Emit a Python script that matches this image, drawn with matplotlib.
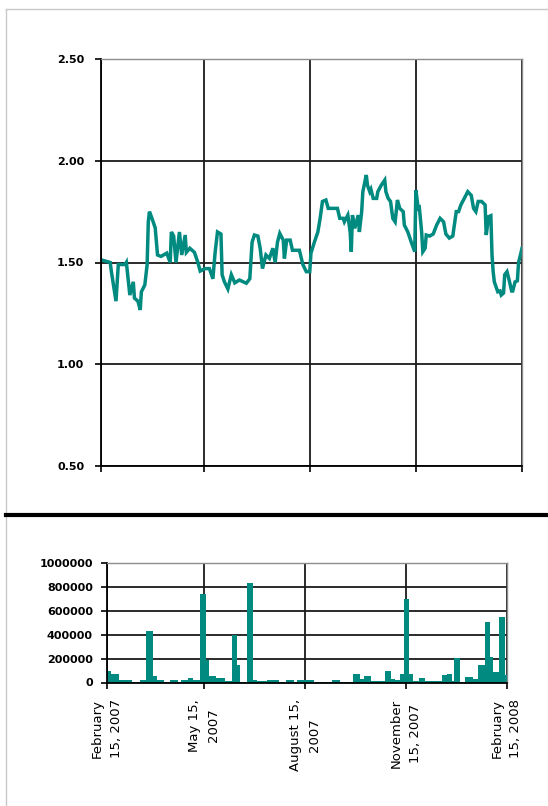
import matplotlib
matplotlib.use("Agg")
import matplotlib.pyplot as plt
from matplotlib.lines import Line2D
import numpy as np
from datetime import date

teal = "#008a80"
grid_col = "#1a1a1a"

# days counted from February 15, 2007
price_days = [2, 8, 9, 13, 15, 21, 22, 25, 28, 29, 32, 34, 35, 38, 40, 41, 42, 44, 47, 49,
              52, 57, 60, 61, 63, 65, 68, 70, 73, 74, 77, 81, 84, 86, 90, 93, 94, 97, 99, 101,
              104, 105, 107, 110, 113, 116, 120, 126, 129, 131, 133, 136, 138, 140, 143, 146, 149, 151, 153, 155,
              158, 159, 161, 164, 166, 172, 175, 178, 181, 182, 185, 188, 190, 192, 195, 197, 205, 207, 210, 211,
              214, 216, 217, 218, 220, 223, 224, 226, 227, 230, 231, 233, 234, 236, 239, 240, 243, 246, 247, 249,
              251, 253, 255, 257, 259, 262, 263, 266, 269, 272, 273, 275, 276, 278, 279, 281, 282, 285, 288, 291,
              294, 297, 299, 302, 305, 308, 310, 312, 315, 318, 321, 323, 325, 327, 330, 333, 334, 336, 338, 339,
              340, 341, 343, 344, 346, 347, 349, 350, 352, 354, 356, 357, 359, 361, 362, 364, 365]
price_values = [1.51, 1.50, 1.455, 1.31, 1.49, 1.49, 1.50, 1.34, 1.405, 1.325, 1.31, 1.267, 1.356, 1.39, 1.49, 1.70, 1.75, 1.72, 1.67, 1.537,
                1.53, 1.546, 1.50, 1.65, 1.63, 1.50, 1.65, 1.537, 1.635, 1.55, 1.57, 1.55, 1.50, 1.458, 1.47, 1.47, 1.47, 1.42, 1.553, 1.65,
                1.64, 1.44, 1.405, 1.37, 1.44, 1.40, 1.414, 1.398, 1.42, 1.60, 1.635, 1.63, 1.57, 1.47, 1.537, 1.52, 1.57, 1.50, 1.60, 1.643,
                1.61, 1.52, 1.61, 1.61, 1.56, 1.56, 1.49, 1.455, 1.455, 1.545, 1.60, 1.65, 1.717, 1.80, 1.807, 1.766, 1.766, 1.717, 1.717, 1.70,
                1.733, 1.65, 1.553, 1.733, 1.668, 1.733, 1.65, 1.75, 1.848, 1.93, 1.88, 1.848, 1.86, 1.815, 1.815, 1.848, 1.88, 1.905, 1.848, 1.815,
                1.80, 1.717, 1.70, 1.807, 1.766, 1.75, 1.684, 1.65, 1.60, 1.553, 1.856, 1.766, 1.77, 1.65, 1.553, 1.57, 1.635, 1.63, 1.64, 1.684,
                1.717, 1.70, 1.64, 1.62, 1.63, 1.75, 1.75, 1.783, 1.815, 1.848, 1.83, 1.766, 1.75, 1.80, 1.80, 1.783, 1.635, 1.725, 1.73, 1.537,
                1.455, 1.405, 1.373, 1.356, 1.36, 1.34, 1.35, 1.44, 1.455, 1.41, 1.36, 1.36, 1.405, 1.41, 1.50, 1.545, 1.57]

vol_days = [0, 4, 11, 23, 30, 36, 42, 46, 52, 58, 65, 68, 74, 79, 85, 91, 93, 100, 108, 114,
            119, 122, 128, 134, 137, 146, 157, 164, 171, 174, 189, 206, 213, 225, 231, 235, 241, 254, 260, 263,
            268, 271, 276, 280, 285, 291, 306, 311, 315, 317, 323, 327, 334, 339, 345, 350, 353, 358, 364]
vol_values = [95000, 75000, 20000, 3000, 20000, 430000, 55000, 20000, 5000, 20000, 5000, 20000, 40000, 20000, 735000, 190000, 55000, 40000, 15000, 395000,
              145000, 5000, 827000, 20000, 15000, 20000, 5000, 20000, 5000, 20000, 3000, 20000, 3000, 70000, 33000, 55000, 15000, 95000, 33000, 25000,
              75000, 695000, 70000, 15000, 40000, 15000, 60000, 75000, 15000, 205000, 5000, 42000, 33000, 150000, 507000, 215000, 90000, 543000, 60000]
vol_end = 365

tick_dates = [date(2007, 2, 15), date(2007, 5, 15), date(2007, 8, 15), date(2007, 11, 15), date(2008, 2, 15)]
tick_labels = ["February\n15, 2007", "May 15,\n2007", "August 15,\n2007", "November\n15, 2007", "February\n15, 2008"]
tick_pos = [(d - tick_dates[0]).days for d in tick_dates]

W, H = 548, 806
fig = plt.figure(figsize=(W / 100, H / 100), dpi=100)
fig.patch.set_facecolor("white")


def style_axes(ax):
    for s in ["left", "bottom"]:
        ax.spines[s].set_color("black")
        ax.spines[s].set_linewidth(1.3)
    for s in ["top", "right"]:
        ax.spines[s].set_color("#8c8c8c")
        ax.spines[s].set_linewidth(1.0)
    ax.set_xticks(tick_pos)
    ax.xaxis.grid(True, color=grid_col, linewidth=1.3)
    ax.yaxis.grid(True, color=grid_col, linewidth=1.3)
    ax.set_axisbelow(True)
    ax.tick_params(length=4, width=1.2, color="black")


# price chart
ax1 = fig.add_axes([101 / W, 1 - 466 / H, 421 / W, 407 / H])
ax1.plot(price_days, price_values, color=teal, linewidth=2.5, solid_joinstyle="miter")
ax1.set_xlim(0, 365)
ax1.set_ylim(0.5, 2.5)
ax1.set_yticks(np.arange(0.5, 2.51, 0.5))
ax1.set_yticklabels(["%.2f" % v for v in np.arange(0.5, 2.51, 0.5)], fontsize=8, fontweight="bold")
style_axes(ax1)
ax1.set_xticklabels([])
ax1.tick_params(axis="y", pad=8)

# volume chart
ax2 = fig.add_axes([106.7 / W, 1 - 682.5 / H, 399.8 / W, 119.8 / H])
widths = np.diff(vol_days + [vol_end])
ax2.bar(vol_days, vol_values, width=widths, align="edge", color=teal, linewidth=0)
ax2.set_xlim(0, 365)
ax2.set_ylim(0, 1000000)
ax2.set_yticks(np.arange(0, 1000001, 200000))
ax2.set_yticklabels([str(v) for v in range(0, 1000001, 200000)], fontsize=8, fontweight="bold")
style_axes(ax2)
ax2.set_xticklabels(tick_labels, rotation=90, fontsize=9.5, linespacing=1.6)
ax2.tick_params(axis="x", pad=8)
ax2.tick_params(axis="y", pad=6)

# frame and separator
fig.add_artist(Line2D([6 / W, 6 / W], [0, 1 - 9 / H], color="#c8c8c8", linewidth=1.0))
fig.add_artist(Line2D([6 / W, 1], [1 - 9 / H, 1 - 9 / H], color="#c8c8c8", linewidth=1.0))
fig.add_artist(Line2D([6 / W, 1], [1 - 515 / H, 1 - 515 / H], color="black", linewidth=3.0))

fig.savefig("out.png", dpi=100)
